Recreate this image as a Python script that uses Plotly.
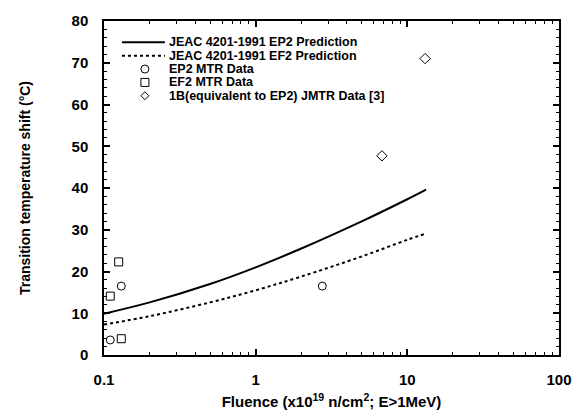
import plotly.graph_objects as go

# Prediction curves
curve_fluence = [0.1, 0.2, 0.5, 1, 2, 5, 10, 13.3]
ep2_pred = [9.9, 12.6, 17.0, 21.0, 25.5, 32.0, 37.3, 39.6]
ef2_pred = [7.3, 9.3, 12.6, 15.5, 18.8, 23.6, 27.6, 29.1]

# Measured data
ep2_mtr_x = [0.11, 0.13, 2.75]
ep2_mtr_y = [3.6, 16.5, 16.5]
ef2_mtr_x = [0.11, 0.125, 0.13]
ef2_mtr_y = [14.1, 22.3, 3.9]
jmtr_x = [6.8, 13.1]
jmtr_y = [47.7, 71.0]

x_tickvals = [0.1, 1, 10, 100]
x_ticktext = ["0.1", "1", "10", "100"]

legend_labels = ["JEAC 4201-1991 EP2 Prediction", "JEAC 4201-1991 EF2 Prediction",
                 "EP2 MTR Data", "EF2 MTR Data", "1B(equivalent to EP2) JMTR Data [3]"]

FONT = "Arial, Liberation Sans, sans-serif"

fig = go.Figure()
fig.add_trace(go.Scatter(x=curve_fluence, y=ep2_pred, mode="lines", line_shape="spline",
                         line=dict(color="black", width=2), name=legend_labels[0]))
fig.add_trace(go.Scatter(x=curve_fluence, y=ef2_pred, mode="lines", line_shape="spline",
                         line=dict(color="black", width=2, dash="dot"), name=legend_labels[1]))
fig.add_trace(go.Scatter(x=ep2_mtr_x, y=ep2_mtr_y, mode="markers",
                         marker=dict(symbol="circle-open", size=8, color="black", line=dict(width=1)),
                         name=legend_labels[2]))
fig.add_trace(go.Scatter(x=ef2_mtr_x, y=ef2_mtr_y, mode="markers",
                         marker=dict(symbol="square-open", size=8, color="black", line=dict(width=1)),
                         name=legend_labels[3]))
fig.add_trace(go.Scatter(x=jmtr_x, y=jmtr_y, mode="markers",
                         marker=dict(symbol="diamond-open", size=8, color="black", line=dict(width=1)),
                         name=legend_labels[4]))

axis_common = dict(showline=True, linecolor="black", linewidth=1.5, mirror="ticks",
                   ticks="inside", ticklen=6, tickwidth=1.5, tickcolor="black",
                   showgrid=False, zeroline=False,
                   tickfont=dict(family=FONT, size=15, color="black", weight="bold"))

fig.update_xaxes(type="log", range=[-1, 2], tickvals=x_tickvals, ticktext=x_ticktext,
                 ticklabelstandoff=10,
                 minor=dict(ticks="inside", ticklen=3, tickwidth=1, tickcolor="black", dtick="D1", showgrid=False),
                 title=dict(text="Fluence (x10<sup>19</sup> n/cm<sup>2</sup>; E>1MeV)",
                            font=dict(family=FONT, size=15, color="black", weight="bold"), standoff=10),
                 **axis_common)
fig.update_yaxes(range=[0, 80], dtick=10, ticklabelstandoff=11,
                 minor=dict(ticks="inside", ticklen=3, tickwidth=1, tickcolor="black", dtick=2, showgrid=False),
                 title=dict(text="Transition temperature shift (°C)",
                            font=dict(family=FONT, size=14, color="black", weight="bold"), standoff=38),
                 **axis_common)

# Hand-built legend (tight row spacing as in the reference)
L, T, B, W = 104.0, 17.0, 361.0, 456.0
def px(xp):
    return (xp - L) / W
def py(yp):
    return (B - yp) / (B - T)

row_y = [39, 52.75, 66.5, 80.25, 94]
shapes = []
shapes.append(dict(type="line", xref="paper", yref="paper", x0=px(122), x1=px(165),
                   y0=py(row_y[0]), y1=py(row_y[0]), line=dict(color="black", width=2)))
shapes.append(dict(type="line", xref="paper", yref="paper", x0=px(122), x1=px(165),
                   y0=py(row_y[1]), y1=py(row_y[1]), line=dict(color="black", width=2, dash="dot")))
mx = px(145)
shapes.append(dict(type="circle", xref="paper", yref="paper", xsizemode="pixel", ysizemode="pixel",
                   xanchor=mx, yanchor=py(row_y[2]), x0=-4, x1=4, y0=-4, y1=4,
                   line=dict(color="black", width=1)))
shapes.append(dict(type="rect", xref="paper", yref="paper", xsizemode="pixel", ysizemode="pixel",
                   xanchor=mx, yanchor=py(row_y[3]), x0=-4, x1=4, y0=-4, y1=4,
                   line=dict(color="black", width=1)))
shapes.append(dict(type="path", xref="paper", yref="paper", xsizemode="pixel", ysizemode="pixel",
                   xanchor=mx, yanchor=py(row_y[4]), path="M0,4 L4,0 L0,-4 L-4,0 Z",
                   line=dict(color="black", width=1)))

annotations = []
for lab, ry in zip(legend_labels, row_y):
    annotations.append(dict(text=lab, xref="paper", yref="paper", x=px(168), y=py(ry),
                            xanchor="left", yanchor="middle", showarrow=False, borderpad=0,
                            font=dict(family=FONT, size=12.5, color="black", weight="bold")))

fig.update_layout(width=584, height=420,
                  margin=dict(l=104, r=24, t=17, b=59),
                  plot_bgcolor="white", paper_bgcolor="white",
                  font=dict(family=FONT, color="black"),
                  showlegend=False, shapes=shapes, annotations=annotations)

fig.write_html("out.html", config={"displayModeBar": False},
               post_script="document.body.style.margin='0px';document.body.style.overflow='hidden';")
